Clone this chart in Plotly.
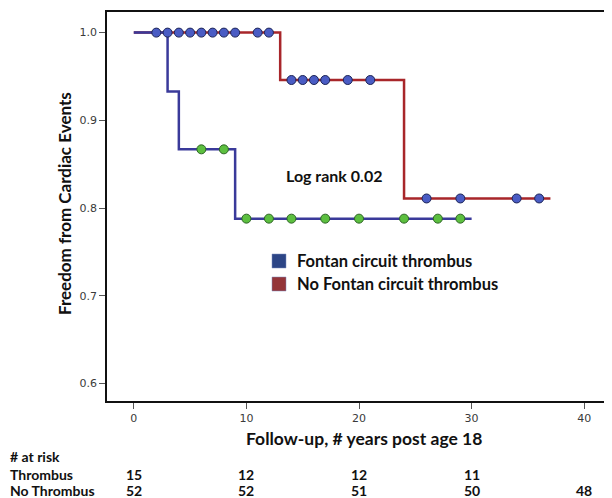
import plotly.graph_objects as go

# ---- data ----
thr_times = [0, 3, 4, 9, 30]
thr_surv = [1.0, 0.933, 0.867, 0.788, 0.788]
nothr_times = [0, 13, 24, 37]
nothr_surv = [1.0, 0.946, 0.811, 0.811]
thr_censor = [6, 8, 10, 12, 14, 17, 20, 24, 27, 29]
nothr_censor = [2, 3, 4, 5, 6, 7, 8, 9, 11, 12, 14, 15, 16, 17, 19, 21, 26, 29, 34, 36]
risk_times = [0, 10, 20, 30, 40]
risk_thr = [15, 12, 12, 11, None]
risk_nothr = [52, 52, 51, 50, 48]
x_ticks = [0, 10, 20, 30, 40]
y_ticks = [0.6, 0.7, 0.8, 0.9, 1.0]
group_names = ["Fontan circuit thrombus", "No Fontan circuit thrombus"]


def step_value(times, surv, t):
    v = surv[0]
    for ti, si in zip(times, surv):
        if ti <= t:
            v = si
    return v


BLUE_LINE = "#3a3a9a"
RED_LINE = "#a8262a"
FONT = "Lato"

fig = go.Figure()
fig.add_trace(go.Scatter(x=nothr_times, y=nothr_surv, mode="lines", line_shape="hv",
                         line=dict(color=RED_LINE, width=2.5), showlegend=False, hoverinfo="skip"))
fig.add_trace(go.Scatter(x=thr_times, y=thr_surv, mode="lines", line_shape="hv",
                         line=dict(color=BLUE_LINE, width=2.5), showlegend=False, hoverinfo="skip"))
fig.add_trace(go.Scatter(x=nothr_censor, y=[step_value(nothr_times, nothr_surv, t) for t in nothr_censor],
                         mode="markers", marker=dict(size=9, color="#4a5cc4", line=dict(color="#1c2456", width=1)),
                         showlegend=False, hoverinfo="skip"))
fig.add_trace(go.Scatter(x=thr_censor, y=[step_value(thr_times, thr_surv, t) for t in thr_censor],
                         mode="markers", marker=dict(size=9, color="#5cbf3f", line=dict(color="#2c6424", width=1)),
                         showlegend=False, hoverinfo="skip"))

# page has an 8px body margin; lay out in window pixels and shift
OFF = 8
WIN_W, WIN_H = 612, 498
W, H = WIN_W - OFF, WIN_H - OFF
PL, PR, PT, PB = 107, 610, 12, 401  # plot area in window pixels
L, R, T, B = PL - OFF, W - (PR - OFF), PT - OFF, H - (PB - OFF)
pw, ph = W - L - R, H - T - B


def px(x):
    return (x - PL) / pw


def py(y):
    return (PB - y) / ph


ann = []
ann.append(dict(text="<b>Log rank 0.02</b>", x=px(334), y=py(175), xref="paper", yref="paper",
                showarrow=False, font=dict(family=FONT, size=16, color="#111"), xanchor="center", yanchor="middle"))
# legend
leg_cols = ["#2c4586", "#943539"]
leg_y = [261, 284]
shapes = []
for name, col, yy in zip(group_names, leg_cols, leg_y):
    shapes.append(dict(type="rect", xref="paper", yref="paper", x0=px(272), x1=px(286),
                       y0=py(yy + 7), y1=py(yy - 7), fillcolor=col, line=dict(color="#7f8fbf", width=0.5)))
    ann.append(dict(text="<b>%s</b>" % name, x=px(295), y=py(yy), xref="paper", yref="paper",
                    showarrow=False, font=dict(family=FONT, size=16.5, color="#111"), xanchor="left", yanchor="middle"))
# axis titles
ann.append(dict(text="<b>Freedom from Cardiac Events</b>", x=px(64), y=py(204), xref="paper", yref="paper",
                textangle=-90, showarrow=False, font=dict(family=FONT, size=17, color="#111"),
                xanchor="center", yanchor="middle"))
ann.append(dict(text="<b>Follow-up, # years post age 18</b>", x=px(364), y=py(438), xref="paper", yref="paper",
                showarrow=False, font=dict(family=FONT, size=17.5, color="#111"), xanchor="center", yanchor="middle"))
# at-risk table
rows = [("# at risk", 456, None), ("Thrombus", 474, risk_thr), ("No Thrombus", 490, risk_nothr)]
for label, yy, vals in rows:
    ann.append(dict(text="<b>%s</b>" % label, x=px(8), y=py(yy), xref="paper", yref="paper",
                    showarrow=False, font=dict(family=FONT, size=14, color="#111"), xanchor="left", yanchor="middle"))
    if vals:
        for t, v in zip(risk_times, vals):
            if v is None:
                continue
            ann.append(dict(text="<b>%d</b>" % v, x=t, y=py(yy), xref="x", yref="paper",
                            showarrow=False, font=dict(family=FONT, size=14, color="#111"),
                            xanchor="center", yanchor="middle"))

fig.update_layout(
    width=W, height=H, margin=dict(l=L, r=R, t=T, b=B, autoexpand=False),
    paper_bgcolor="white", plot_bgcolor="white",
    annotations=ann, shapes=shapes, showlegend=False,
    xaxis=dict(range=[-2.38, 42.29], tickvals=x_ticks, ticktext=[str(v) for v in x_ticks],
               showgrid=False, zeroline=False, showline=True, linecolor="#111", linewidth=1.5, mirror=True,
               ticks="outside", ticklen=6, tickcolor="#555", tickwidth=1,
               tickfont=dict(family="DejaVu Sans", size=11, color="#3a3a3a")),
    yaxis=dict(range=[0.5802, 1.0235], tickvals=y_ticks, ticktext=["%.1f" % v for v in y_ticks],
               showgrid=False, zeroline=False, showline=True, linecolor="#111", linewidth=1.5, mirror=True,
               ticks="outside", ticklen=6, tickcolor="#555", tickwidth=1,
               tickfont=dict(family="DejaVu Sans", size=11, color="#3a3a3a")),
)

fig.write_html("out.html")
